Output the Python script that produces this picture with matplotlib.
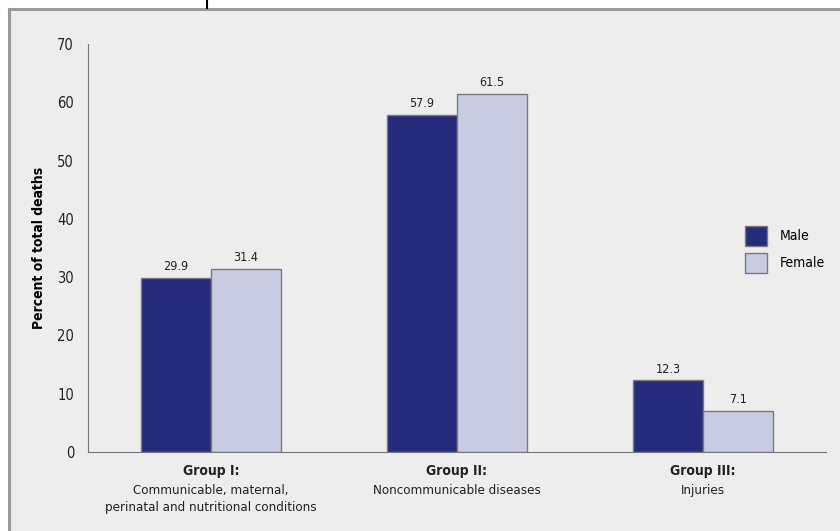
import matplotlib.pyplot as plt
from matplotlib.patches import Rectangle
import numpy as np

plt.rcParams['font.family'] = ['DejaVu Sans']
plt.rcParams['font.stretch'] = 'condensed'

groups = ['Group I:', 'Group II:', 'Group III:']
subtitles = ['Communicable, maternal,\nperinatal and nutritional conditions',
             'Noncommunicable diseases', 'Injuries']
male = [29.9, 57.9, 12.3]
female = [31.4, 61.5, 7.1]
yticks = [0, 10, 20, 30, 40, 50, 60, 70]

male_color = '#262b7b'
female_color = '#c9cbe0'
edge = '#7a7a7a'
bg = '#ededed'

fig = plt.figure(figsize=(8.4, 5.31), dpi=100)
fig.patch.set_facecolor('white')

# grey panel with border on the top and left only
W, H = 840, 531
fig.patches.append(Rectangle((9 / W, 0), 1, 1 - 9 / H, transform=fig.transFigure,
                             facecolor=bg, edgecolor='none', zorder=-1))
fig.add_artist(plt.Line2D([9 / W, 1], [1 - 9 / H, 1 - 9 / H], transform=fig.transFigure,
                          color='#9a9a9a', lw=2.2))
fig.add_artist(plt.Line2D([9 / W, 9 / W], [0, 1 - 9 / H], transform=fig.transFigure,
                          color='#9a9a9a', lw=2.2))
fig.add_artist(plt.Line2D([207 / W, 207 / W], [1 - 8 / H, 1], transform=fig.transFigure,
                          color='black', lw=1.5))

ax = fig.add_axes([88 / W, 1 - 452 / H, (826 - 88) / W, (452 - 44) / H])
ax.set_facecolor(bg)

x = np.arange(len(groups))
w = 0.285
ax.bar(x - w / 2, male, w, color=male_color, edgecolor=edge, linewidth=1, label='Male')
ax.bar(x + w / 2, female, w, color=female_color, edgecolor=edge, linewidth=1, label='Female')

for xi, m, f in zip(x, male, female):
    ax.text(xi - w / 2, m + 0.8, f'{m:.1f}', ha='center', va='bottom', fontsize=9, color='#222222')
    ax.text(xi + w / 2, f + 0.8, f'{f:.1f}', ha='center', va='bottom', fontsize=9, color='#222222')

ax.set_xlim(-0.5, 2.5)
ax.set_ylim(0, 70)
ax.set_yticks(yticks)
ax.set_yticklabels([str(t) for t in yticks], fontsize=10.5, color='#222222')
ax.tick_params(axis='y', length=0, pad=10)
ax.tick_params(axis='x', length=0)
ax.set_xticks(x)
ax.set_xticklabels([''] * len(groups))
for xi, g, s in zip(x, groups, subtitles):
    ax.text(xi, -2.1, g, ha='center', va='top', fontsize=10, fontweight='bold', color='#222222')
    ax.text(xi, -5.5, s, ha='center', va='top', fontsize=9.5, color='#222222', linespacing=1.35)

for side in ['top', 'right']:
    ax.spines[side].set_visible(False)
ax.spines['left'].set_color('#777777')
ax.spines['bottom'].set_color('#777777')

ax.set_ylabel('Percent of total deaths', fontsize=10, fontweight='bold', labelpad=8)

ax.legend(loc='upper left', bbox_to_anchor=(0.89, 0.555), frameon=False, fontsize=10,
          handlelength=1.6, handleheight=1.85, handletextpad=0.9, labelspacing=0.5,
          borderaxespad=0, borderpad=0)

fig.savefig('out.png', dpi=100, facecolor=fig.get_facecolor())
